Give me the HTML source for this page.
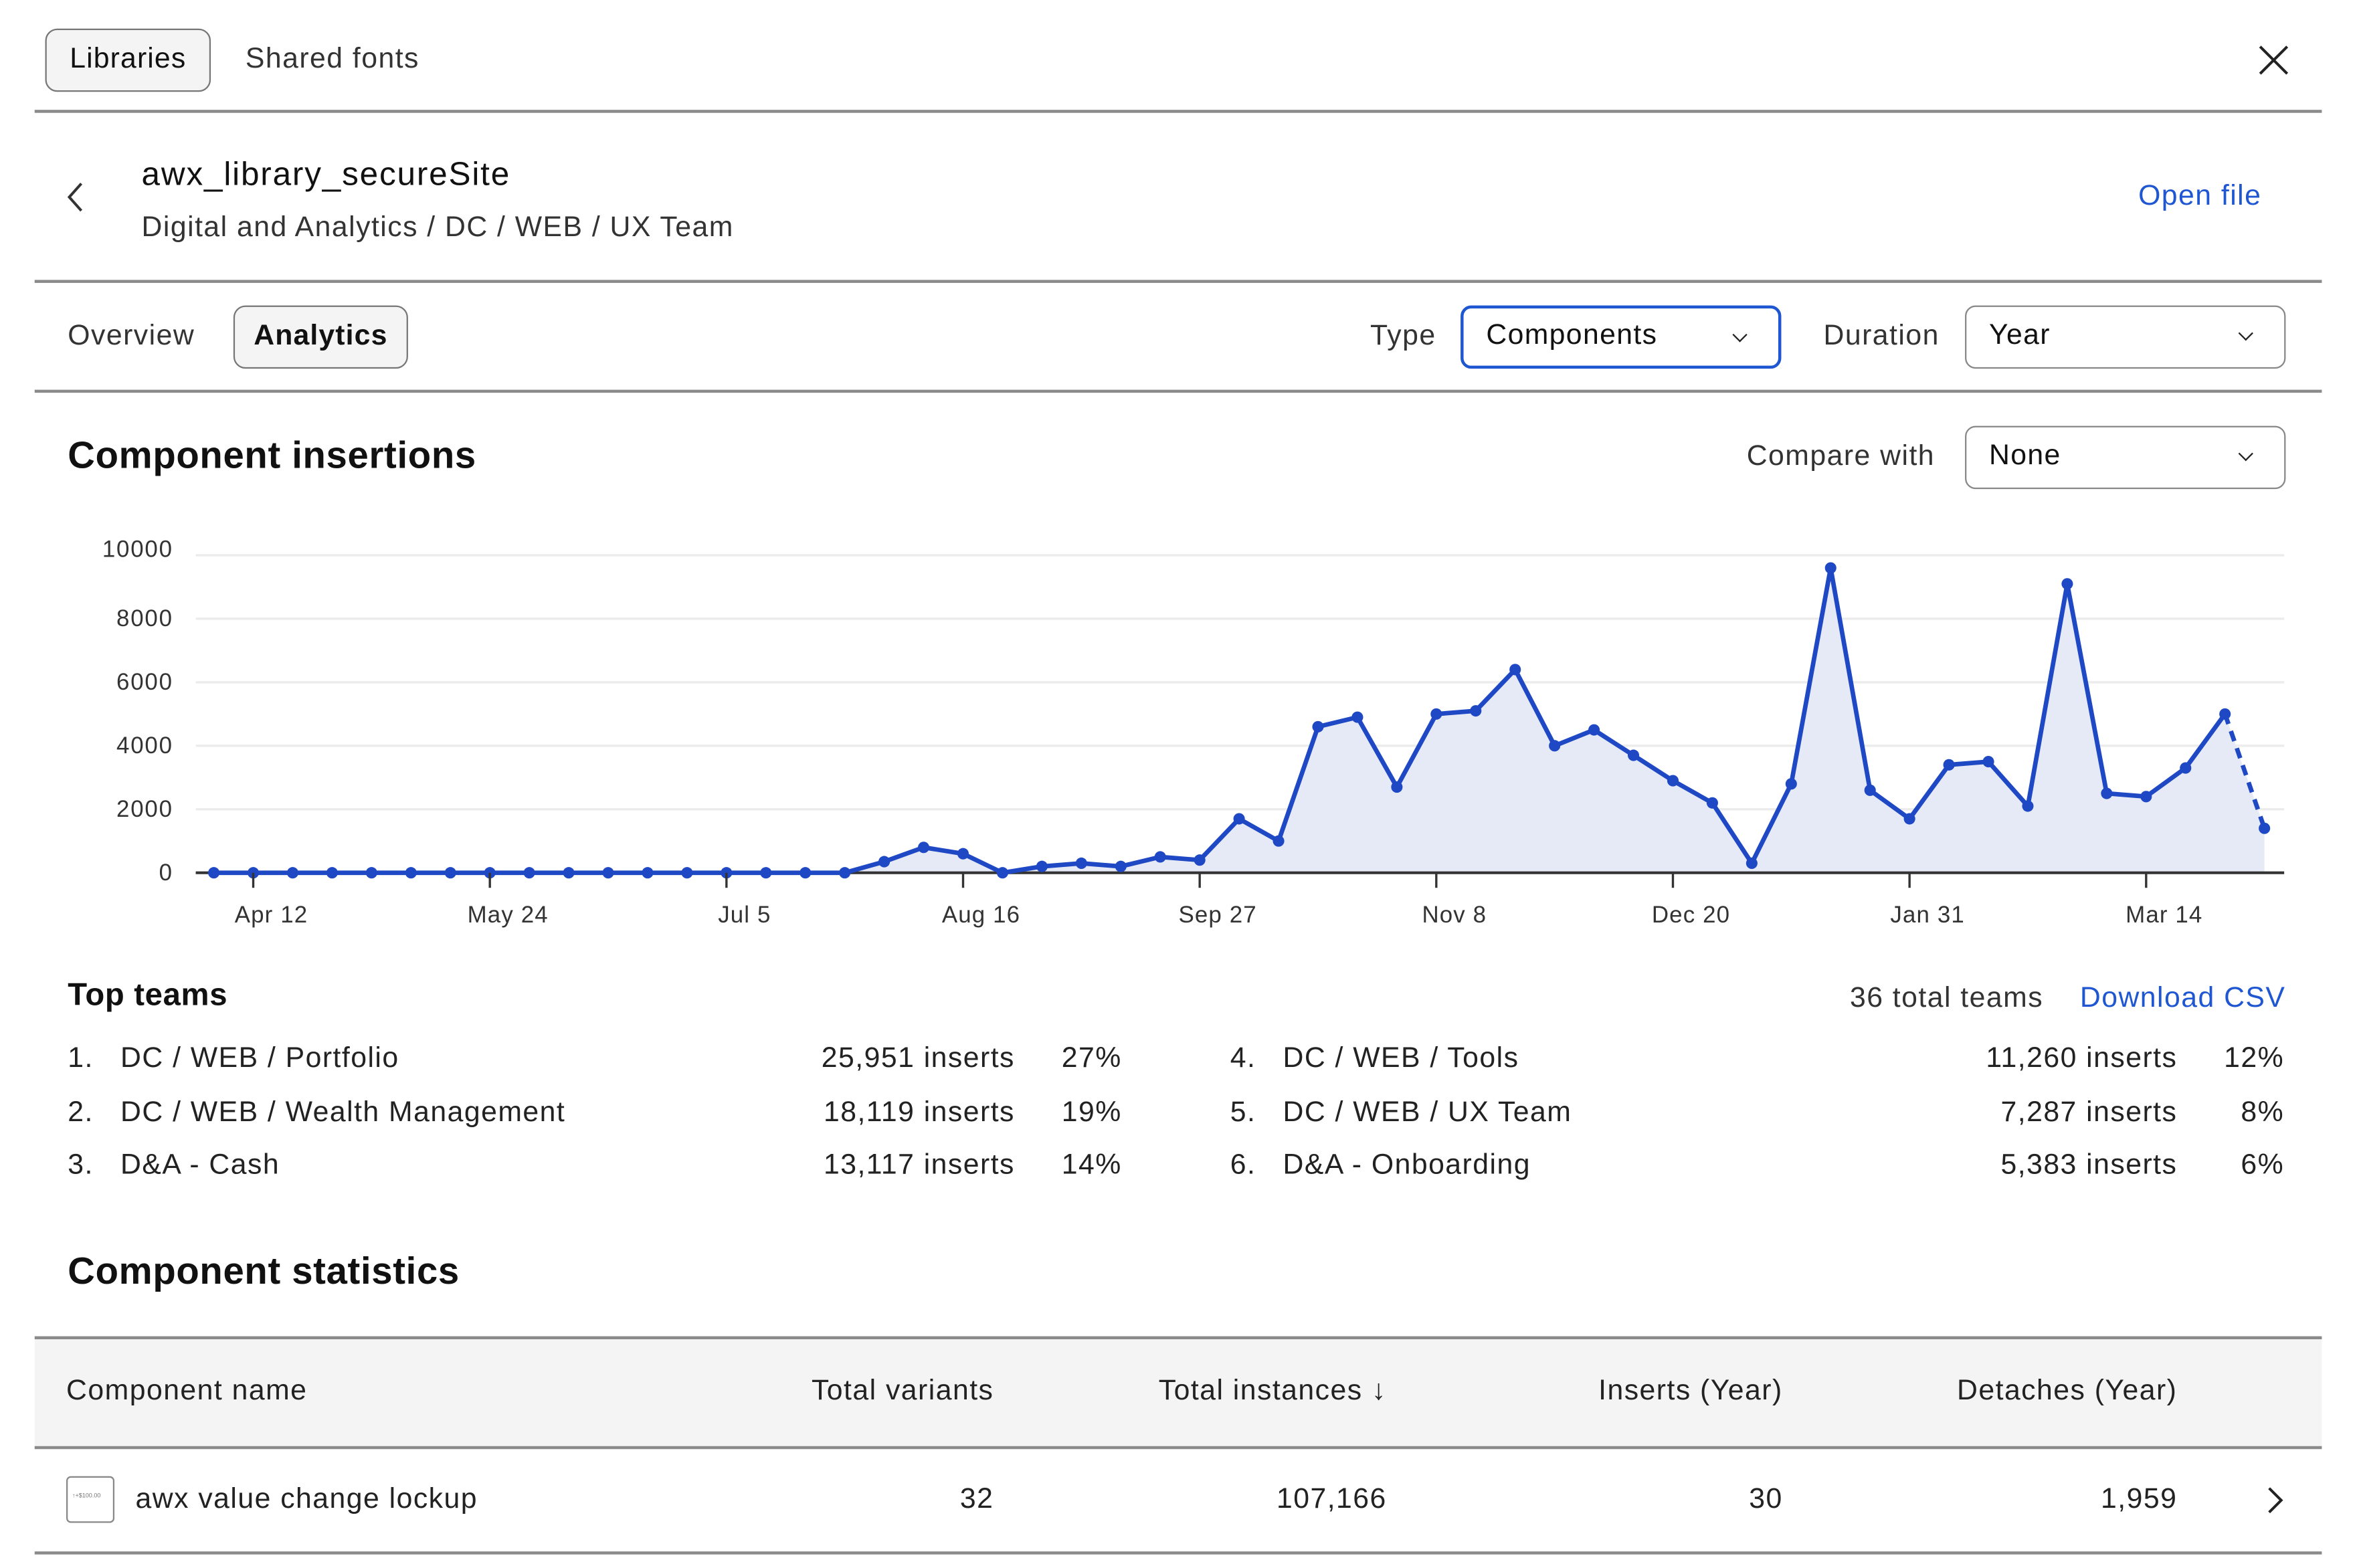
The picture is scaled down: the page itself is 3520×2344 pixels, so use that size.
<!DOCTYPE html>
<html><head><meta charset="utf-8">
<style>
html,body{margin:0;padding:0;width:3520px;height:2344px;overflow:hidden;background:#fff}
#root{position:absolute;left:0;top:0;width:1564px;height:1042px;transform:scale(2.2506,2.2495);transform-origin:0 0;font-family:"Liberation Sans",sans-serif;color:#222}
.a{position:absolute;white-space:nowrap}
.hr{position:absolute;left:23px;width:1519px;height:1.5px;background:#8a8a8a}
.btn{position:absolute;border:1.5px solid #777;border-radius:8px;background:#f4f4f4;box-sizing:border-box;font-size:19px;letter-spacing:0.5px;display:flex;align-items:center;justify-content:center;color:#111}
.sel{position:absolute;border:1.5px solid #888;border-radius:7px;box-sizing:border-box;font-size:19px;letter-spacing:0.6px;color:#111;background:#fff}
.sel span{position:absolute;left:15px;top:50%;transform:translateY(-52%)}
.sel i{position:absolute;right:22px;top:14px;width:6px;height:6px;border-right:1.5px solid #222;border-bottom:1.5px solid #222;transform:rotate(45deg)}
.t18{font-size:19px;letter-spacing:0.65px}
.r{text-align:right}
.h{font-weight:bold;letter-spacing:0.3px}
</style></head><body>
<div id="root">
<div class="btn" style="left:30px;top:19px;width:110px;height:42px">Libraries</div>
<div class="a t18" style="left:163px;top:29px;color:#333">Shared fonts</div>
<svg class="a" style="left:1499px;top:29px" width="22" height="22"><path d="M2 2L20 20M20 2L2 20" stroke="#222" stroke-width="1.8"/></svg>
<div class="hr" style="top:73px"></div>

<svg class="a" style="left:42px;top:120px" width="16" height="22"><path d="M12 2L4 11L12 20" stroke="#333" stroke-width="1.8" fill="none"/></svg>
<div class="a" style="left:94px;top:103px;font-size:22px;letter-spacing:0.8px;color:#111">awx_library_secureSite</div>
<div class="a t18" style="left:94px;top:141px;color:#333">Digital and Analytics / DC / WEB / UX Team</div>
<div class="a t18 r" style="left:1302px;width:200px;top:120px;color:#1f56d1">Open file</div>
<div class="hr" style="top:186px"></div>

<div class="a t18" style="left:45px;top:213px;color:#333">Overview</div>
<div class="btn" style="left:155px;top:203px;width:116px;height:42px;font-weight:bold">Analytics</div>
<div class="a t18" style="left:910px;top:213px;color:#333">Type</div>
<div class="sel" style="left:970px;top:203px;width:213px;height:42px;border:2px solid #1f56d1"><span>Components</span><i></i></div>
<div class="a t18" style="left:1211px;top:213px;color:#333">Duration</div>
<div class="sel" style="left:1305px;top:203px;width:213px;height:42px"><span>Year</span><i></i></div>
<div class="hr" style="top:259px"></div>

<div class="a h" style="left:45px;top:289px;font-size:25px;color:#111">Component insertions</div>
<div class="a t18" style="left:1160px;top:293px;color:#333">Compare with</div>
<div class="sel" style="left:1305px;top:283px;width:213px;height:42px"><span>None</span><i></i></div>

<svg class="a" style="left:0;top:0" width="1564" height="640" id="chart"></svg>

<div class="a h" style="left:45px;top:650px;font-size:21px;color:#111">Top teams</div>
<div class="a t18 r" style="left:1157px;width:200px;top:653px;color:#333">36 total teams</div>
<div class="a t18 r" style="left:1318px;width:200px;top:653px;color:#1f56d1">Download CSV</div>

<div class="a h" style="left:45px;top:831px;font-size:25px;color:#111">Component statistics</div>
<div class="a" style="left:23px;top:889px;width:1519px;height:72px;background:#f4f4f4"></div>
<div class="hr" style="top:888px"></div>
<div class="hr" style="top:961px"></div>
<div class="hr" style="top:1031px"></div>
<div class="a t18" style="left:44px;top:914px">Component name</div>
<div class="a t18 r" style="left:460px;width:200px;top:914px">Total variants</div>
<div class="a t18 r" style="left:700px;width:221px;top:914px">Total instances ↓</div>
<div class="a t18 r" style="left:984px;width:200px;top:914px">Inserts (Year)</div>
<div class="a t18 r" style="left:1246px;width:200px;top:914px">Detaches (Year)</div>
<div class="a" style="left:44px;top:981px;width:32px;height:31px;border:1.3px solid #888;border-radius:3px;box-sizing:border-box;font-size:4px;color:#777;padding:9px 0 0 3px">↑+$100.00</div>
<div class="a t18" style="left:90px;top:986px">awx value change lockup</div>
<div class="a t18 r" style="left:560px;width:100px;top:986px">32</div>
<div class="a t18 r" style="left:821px;width:100px;top:986px">107,166</div>
<div class="a t18 r" style="left:1084px;width:100px;top:986px">30</div>
<div class="a t18 r" style="left:1346px;width:100px;top:986px">1,959</div>
<svg class="a" style="left:1503px;top:987px" width="16" height="20"><path d="M4 2L12 10L4 18" stroke="#222" stroke-width="1.8" fill="none"/></svg>
</div>
<script>
const values=[0,0,0,0,0,0,0,0,0,0,0,0,0,0,0,0,0,350,800,600,0,200,300,200,500,400,1700,1000,4600,4900,2700,5000,5100,6400,4000,4500,3700,2900,2200,300,2800,9600,2600,1700,3400,3500,2100,9100,2500,2400,3300,5000,1400];
const yTicks=[0,2000,4000,6000,8000,10000];
const xTickLabels=["Apr 12","May 24","Jul 5","Aug 16","Sep 27","Nov 8","Dec 20","Jan 31","Mar 14"];
const xTickIndex=[1,7,13,19,25,31,37,43,49];
const teamNames=["DC / WEB / Portfolio","DC / WEB / Wealth Management","D&A - Cash","DC / WEB / Tools","DC / WEB / UX Team","D&A - Onboarding"];
const teamInserts=["25,951","18,119","13,117","11,260","7,287","5,383"];
const teamPct=["27%","19%","14%","12%","8%","6%"];

const NS="http://www.w3.org/2000/svg";
const svg=document.getElementById('chart');
const X0=142,DX=26.19,Y0=580,YH=211,L=130,R=1517;
const x=i=>X0+i*DX, y=v=>Y0-v/10000*YH;
function mk(t,a){const e=document.createElementNS(NS,t);for(const k in a)e.setAttribute(k,a[k]);svg.appendChild(e);return e;}
yTicks.forEach(v=>{
 if(v>0){const g=mk('line',{x1:L,x2:R,y1:y(v),y2:y(v),stroke:'#ececec','stroke-width':1.5});
 
 }
 const t=mk('text',{x:115,y:y(v)+(v===10000?1:5),'text-anchor':'end','font-size':15.5,'letter-spacing':0.8,fill:'#333','font-family':'Liberation Sans'});
 t.textContent=v;
 
 
});
const n=values.length;
let d='M'+x(0)+','+Y0;values.forEach((v,i)=>d+='L'+x(i)+','+y(v));d+='L'+x(n-1)+','+Y0+'Z';
const area=mk('path',{d:d,fill:'#e6eaf7'});


const ax=mk('line',{x1:L,x2:R,y1:Y0,y2:Y0,stroke:'#333','stroke-width':1.8});


let ld='';for(let i=0;i<n-1;i++)ld+=(i?'L':'M')+x(i)+','+y(values[i]);
const line=mk('path',{d:ld,fill:'none',stroke:'#1f48c4','stroke-width':3,'stroke-linejoin':'round'});


const dash=mk('line',{x1:x(n-2),y1:y(values[n-2]),x2:x(n-1),y2:y(values[n-1]),stroke:'#1f48c4','stroke-width':3,'stroke-dasharray':'7 5'});


values.forEach((v,i)=>{const c=mk('circle',{cx:x(i),cy:y(v),r:3.8,fill:'#1f48c4'});
 
 });
xTickIndex.forEach((ti,k)=>{
 const tk=mk('line',{x1:x(ti),x2:x(ti),y1:Y0,y2:Y0+10,stroke:'#333','stroke-width':1.5});
 
 
 const t=mk('text',{x:x(ti)+12,y:613,'text-anchor':'middle','font-size':15.5,'letter-spacing':0.5,fill:'#333','font-family':'Liberation Sans'});
 t.textContent=xTickLabels[k];
 
 
});
const root=document.getElementById('root');
teamNames.forEach((nm,i)=>{
 const col=i<3?0:1,row=i%3,top=693+row*35.5;
 const off=col?772:0;
 const parts=[[45+off,null,(i+1)+'.','team-rank'],[80+off,null,nm,'team-name'],[474+off,200,teamInserts[i]+' inserts','team-inserts'],[645+off,100,teamPct[i],'team-percent']];
 parts.forEach(p=>{const e=document.createElement('div');e.className='a t18'+(p[1]?' r':'');e.style.left=p[0]+'px';e.style.top=top+'px';if(p[1])e.style.width=p[1]+'px';e.style.color='#222';e.textContent=p[2];
 
 
 root.appendChild(e);});
});
</script>
</body></html>
